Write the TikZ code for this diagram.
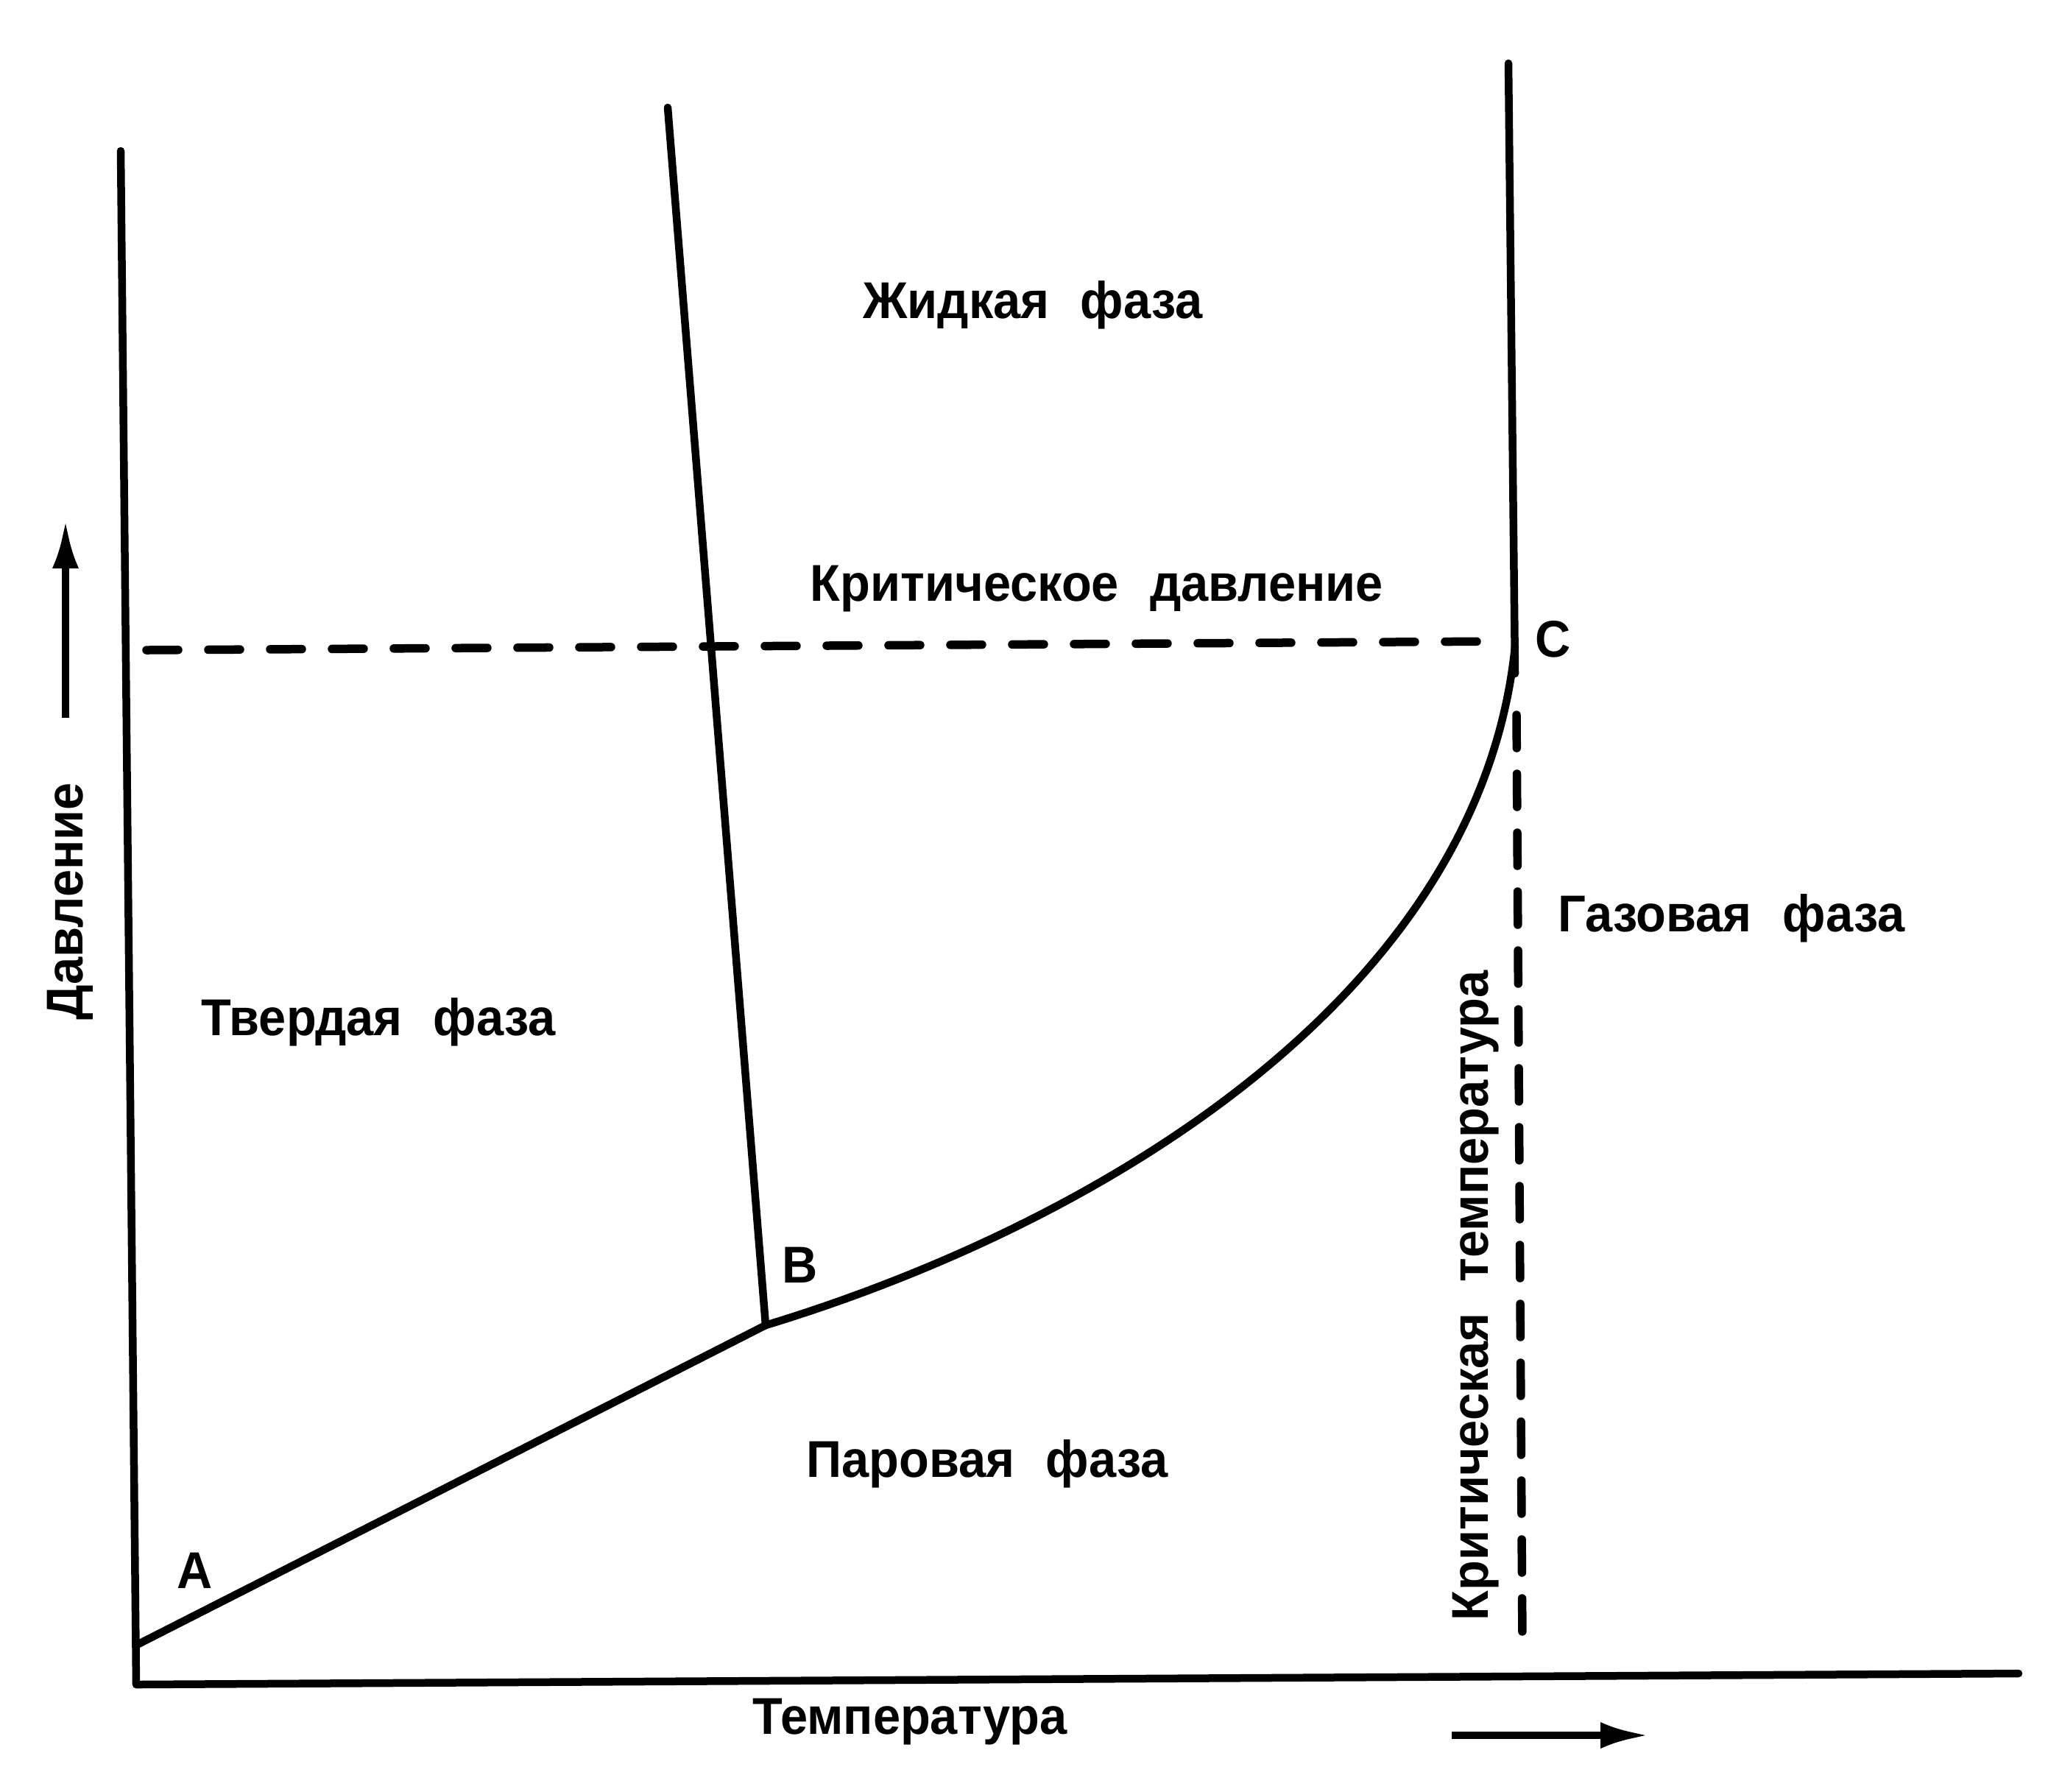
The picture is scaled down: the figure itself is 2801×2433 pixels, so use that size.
\documentclass[tikz,border=0pt]{standalone}
\usepackage{fontspec}
\setmainfont{Liberation Sans}[FakeStretch=0.95]
\usetikzlibrary{arrows.meta}
\begin{document}
\begin{tikzpicture}[x=0.1mm,y=-0.1mm,
  lbl/.style={font=\fontsize{20}{24}\selectfont\bfseries, inner sep=0pt, anchor=base},
  mainline/.style={line width=1.05mm, line cap=round, line join=round},
  dashline/.style={line width=1.15mm, line cap=round},
  hdash/.style={dashline, dash pattern=on 4.3mm off 4.1mm},
  vdash/.style={dashline, dash pattern=on 4.5mm off 3.5mm},
  axarrow/.style={line width=1mm, -{Latex[length=6.6mm,width=3.6mm]}}]
\useasboundingbox[fill=white] (0,0) rectangle (2801,2433);
% key points
\coordinate (axtop) at (164,205);
\coordinate (O) at (185,2288);
\coordinate (axend) at (2742,2273);
\coordinate (A) at (188,2233);
\coordinate (B) at (1040,1800);
\coordinate (mtop) at (907,146);
\coordinate (C) at (2058,878);
\coordinate (ctop) at (2049,86);
\coordinate (cbot) at (2058,915);
\coordinate (dl) at (199,883);
\coordinate (dr) at (2046,871);
\coordinate (vt) at (2060,971);
\coordinate (vb) at (2068,2234);
\coordinate (upS) at (89,975);
\coordinate (upE) at (89,706);
\coordinate (rtS) at (1972,2357);
\coordinate (rtE) at (2240,2357);
% axes
\draw[mainline] (axtop) -- (O) -- (axend);
% phase boundaries
\draw[mainline] (A) -- (B);
\draw[mainline] (mtop) -- (B);
\draw[mainline] (B) .. controls (1500,1660) and (2010,1350) .. (C);
\draw[mainline] (ctop) -- (cbot);
% critical lines
\draw[hdash] (dl) -- (dr);
\draw[vdash] (vt) -- (vb);
% direction arrows
\draw[axarrow] (upS) -- (upE);
\draw[axarrow] (rtS) -- (rtE);
% labels
\node[lbl] (liq) at (1403,432) {Жидкая\hspace{0.6em}фаза};
\node[lbl] (crp) at (1490,816) {Критическое\hspace{0.6em}давление};
\node[lbl] (gas) at (2352,1265) {Газовая\hspace{0.6em}фаза};
\node[lbl] (sol) at (514,1406) {Твердая\hspace{0.6em}фаза};
\node[lbl] (vap) at (1341,2006) {Паровая\hspace{0.6em}фаза};
\node[lbl] (temp) at (1236,2355) {Температура};
\node[lbl, rotate=90] (pres) at (112,1224) {Давление};
\node[lbl, rotate=90] (crt) at (2021,1760) {Критическая\hspace{0.6em}температура};
\node[lbl] (lA) at (265,2157) {A};
\node[lbl] (lB) at (1087,1742) {B};
\node[lbl] (lC) at (2110,892) {C};
\end{tikzpicture}
\end{document}
